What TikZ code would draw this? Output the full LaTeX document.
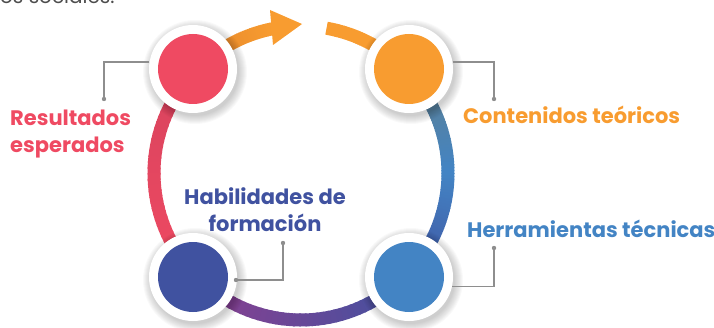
\documentclass[tikz,border=0pt]{standalone}
\usepackage{fontspec}
\setmainfont{Poppins}
\definecolor{cred}{HTML}{EF4A62}
\definecolor{credd}{HTML}{D8435E}
\definecolor{corange}{HTML}{F89C30}
\definecolor{corangd}{HTML}{E2832A}
\definecolor{cdblue}{HTML}{4052A0}
\definecolor{clblue}{HTML}{4384C4}
\definecolor{cgblue}{HTML}{617F8B}
\definecolor{cpurple}{HTML}{8E3E8F}
\definecolor{cline}{HTML}{8E8E8E}
\definecolor{ctext}{HTML}{4D4D4D}
\newcommand\gradarc[4]{%
  \foreach \i in {0,...,39}{%
    \pgfmathsetmacro\sa{#1+(#2-#1)*\i/40}%
    \pgfmathsetmacro\ea{#1+(#2-#1)*(\i+1.3)/40}%
    \pgfmathsetmacro\p{100-\i*100/39}%
    \draw[ring, draw=#3!\p!#4] (C) ++(\sa:147) arc[start angle=\sa, end angle=\ea, radius=147];
  }}
\tikzset{
  ring/.style={line width=13pt, line cap=butt},
  outer/.style={circle, fill=white, minimum size=88pt, inner sep=0pt},
  inner/.style={circle, minimum size=70pt, inner sep=0pt},
  conn/.style={draw=cline, line width=1.3pt},
  dotc/.style={fill=cline},
  lbl/.style={font=\fontsize{21}{27}\selectfont\bfseries, inner sep=0pt},
}
\begin{document}
\begin{tikzpicture}[x=1pt,y=1pt]
\useasboundingbox (0,0) rectangle (714,327);
\coordinate (C) at (301,154);
% top cut text
\node[anchor=base west, inner sep=0pt, text=ctext, font=\fontsize{20}{24}\selectfont] (top) at (0,323) {os sociales.};
% ring arcs
\gradarc{136}{101}{corangd}{corange}
\fill[corange] (270,317) -- (302,303) -- (273,282) -- cycle;
\gradarc{80}{44}{corange}{corange}
\gradarc{44}{0}{cgblue}{clblue}
\gradarc{0}{-44}{clblue}{cdblue}
\gradarc{-44}{-136}{cdblue}{cpurple}
\gradarc{136}{224}{credd}{cred}
% shadows
\foreach \c in {(193,258),(409,258),(193,50),(409,50)}{
  \foreach \r in {44,45,...,52}{
    \fill[black, opacity=0.022] \c ++(2,-3) circle[radius=\r];
  }
}
% circles
\node[outer] (w1) at (193,258) {};
\node[outer] (w2) at (409,258) {};
\node[outer] (w3) at (193,50) {};
\node[outer] (w4) at (409,50) {};
\node[inner, fill=cred] (c1) at (w1) {};
\node[inner, fill=corange] (c2) at (w2) {};
\node[inner, fill=cdblue] (c3) at (w3) {};
\node[inner, fill=clblue] (c4) at (w4) {};
% labels
\node[lbl, text=cred, align=left, anchor=base west] (t1) at (10,175) {Resultados\\esperados};
\node[lbl, text=corange, anchor=base west] (t2) at (463,203) {Contenidos teóricos};
\node[lbl, text=cdblue, align=center, anchor=base] (t3) at (265,96) {Habilidades de\\formación};
\node[lbl, text=clblue, anchor=base west] (t4) at (467,90) {Herramientas técnicas};
% connectors
\coordinate (d1) at (104,228);
\coordinate (d2) at (494,228);
\coordinate (d3) at (283,84);
\coordinate (d4) at (494,79);
\coordinate (s3) at (236,47);
\draw[conn] (w1.171) -| (d1);
\draw[conn] (w2.9) -| (d2);
\draw[conn] (s3) -| (d3);
\draw[conn] (w4.-12) -| (d4);
\fill[dotc] (d1) circle[radius=2.2];
\fill[dotc] (d2) circle[radius=2.2];
\fill[dotc] (d3) circle[radius=2.2];
\fill[dotc] (d4) circle[radius=2.2];
\fill[dotc] (s3) circle[radius=2.2];
\end{tikzpicture}
\end{document}
